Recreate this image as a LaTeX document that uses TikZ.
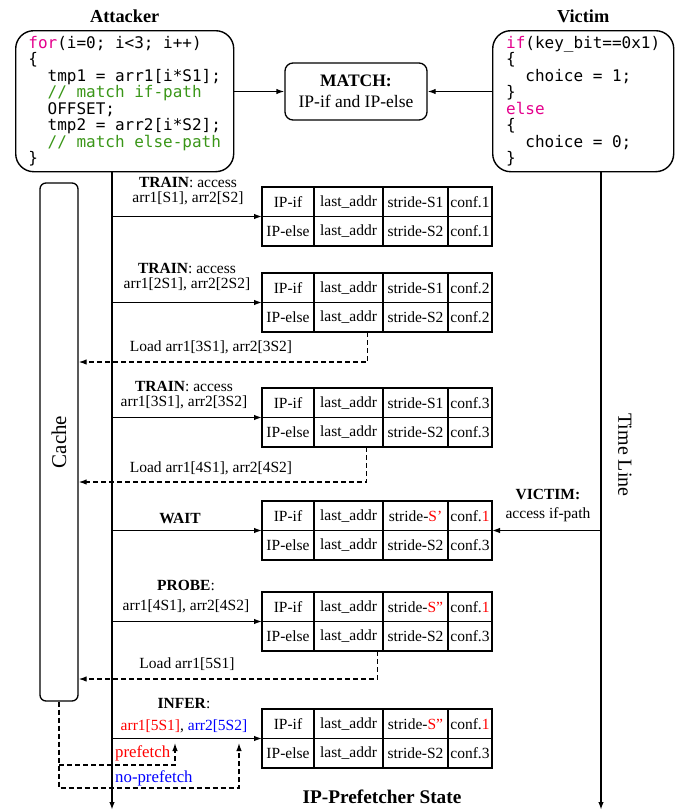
\documentclass[tikz,border=0pt]{standalone}
\usepackage{fontspec}
\setmainfont{Liberation Serif}
\setmonofont{DejaVu Sans Mono}
\usepackage{tikz}
\usetikzlibrary{shapes,arrows.meta,positioning}
\definecolor{kwpink}{RGB}{228,0,140}
\definecolor{cmtgreen}{RGB}{58,150,24}

\begin{document}
\begin{tikzpicture}
            [
                x=1pt, y=-1pt,
                >={Latex[length=8pt,width=5.5pt]},
                codebox/.style={rectangle, draw=black, line width=1.4pt, rounded corners=18pt, minimum width=218pt, minimum height=141pt, inner sep=0pt, align=left, font=\ttfamily\fontsize{16}{16.5}\selectfont},
                matchbox/.style={rectangle, draw=black, line width=1.3pt, rounded corners=8pt, minimum width=142pt, minimum height=57pt, align=center, font=\fontsize{17.5}{21}\selectfont},
                cachebox/.style={rectangle, draw=black, line width=1.3pt, rounded corners=6pt, minimum width=38pt, minimum height=518pt},
                titletext/.style={inner sep=0pt, font=\bfseries\fontsize{18.3}{20}\selectfont},
                cellnode/.style={rectangle, draw=black, line width=1.3pt, minimum height=29.5pt, inner sep=0pt, outer sep=0pt, font=\fontsize{15.5}{15}\selectfont},
                steplabel/.style={inner sep=0pt, align=center, font=\fontsize{15.5}{15}\selectfont},
                flowline/.style={line width=1.3pt, ->},
                timeline/.style={line width=2pt, ->},
                loadline/.style={line width=1.2pt, dash pattern=on 5pt off 3pt, ->},
            ]

            \useasboundingbox (0,0) rectangle (683,812);

            %% CODE BOXES
            \node[codebox, anchor=north west] (attcode) at (15,30) {\textcolor{kwpink}{for}(i=0; i<3; i++)\\
                \{\\
                \phantom{xx}tmp1 = arr1[i*S1];\\
                \phantom{xx}\textcolor{cmtgreen}{// match if-path}\\
                \phantom{xx}OFFSET;\\
                \phantom{xx}tmp2 = arr2[i*S2];\\
                \phantom{xx}\textcolor{cmtgreen}{// match else-path}\\
                \}};
            \node[codebox, anchor=north west, minimum width=181pt] (viccode) at (492,30) {\textcolor{kwpink}{if}(key\_bit==0x1)\\
                \{\\
                \phantom{xx}choice = 1;\\
                \}\\
                \textcolor{kwpink}{else}\\
                \{\\
                \phantom{xx}choice = 0;\\
                \}};

            \node[titletext] (atttitle) [above=7pt of attcode] {Attacker};
            \node[titletext] (victitle) [above=7pt of viccode] {Victim};

            \node[matchbox] (match) at (356,91.5) {\textbf{MATCH:}\\IP-if and IP-else};
            \draw[flowline] (attcode.east |- match.west) -- (match.west);
            \draw[flowline] (viccode.west |- match.east) -- (match.east);

            %% TIME LINES
            \coordinate (attend) at (112,810);
            \coordinate (vicend) at (601,810);
            \draw[timeline] (attend |- attcode.south) -- (attend);
            \draw[timeline] (vicend |- viccode.south) -- (vicend);
            \node[rotate=-90, font=\fontsize{20}{20}\selectfont] (timelabel) at (625,455) {Time Line};

            %% CACHE
            \node[cachebox] (cache) at (59,442) {};
            \node[rotate=90, font=\fontsize{21}{21}\selectfont] (cachelabel) at (cache) {Cache};

            %% PREFETCHER TABLES
            \foreach \n/\ty/\sa/\ca/\cb in {1/187/S1/1/1, 2/273/S1/2/2, 3/388/S1/3/3,
                4/501/{\textcolor{red}{S’}}/{\textcolor{red}{1}}/3,
                5/592/{\textcolor{red}{S”}}/{\textcolor{red}{1}}/3,
                6/709/{\textcolor{red}{S”}}/{\textcolor{red}{1}}/3}
            {
                \node[cellnode, anchor=north west, minimum width=52pt] (ifa\n) at (262,\ty) {IP-if};
                \node[cellnode, minimum width=69pt, right=0pt of ifa\n] (lasta\n) {last\_addr};
                \node[cellnode, minimum width=65pt, right=0pt of lasta\n] (stridea\n) {stride-\sa};
                \node[cellnode, minimum width=44pt, right=0pt of stridea\n] (confa\n) {conf.\ca};
                \node[cellnode, minimum width=52pt, below=0pt of ifa\n] (ifb\n) {IP-else};
                \node[cellnode, minimum width=69pt, right=0pt of ifb\n] (lastb\n) {last\_addr};
                \node[cellnode, minimum width=65pt, right=0pt of lastb\n] (strideb\n) {stride-S2};
                \node[cellnode, minimum width=44pt, right=0pt of strideb\n] (confb\n) {conf.\cb};
                \draw[flowline] (attend |- ifa\n.south west) -- (ifa\n.south west);
            }

            \node[steplabel] (train1) at (188,191) {\textbf{TRAIN}: access\\arr1[S1], arr2[S2]};
            \node[steplabel] (train2) at (187,277) {\textbf{TRAIN}: access\\arr1[2S1], arr2[2S2]};
            \node[steplabel] (train3) at (184,395.5) {\textbf{TRAIN}: access\\arr1[3S1], arr2[3S2]};
            \node[steplabel] (wait) at (180,518) {\textbf{WAIT}};
            \node[steplabel] (probe) at (186,597) {\textbf{PROBE}:\\[5pt]arr1[4S1], arr2[4S2]};
            \node[steplabel] (infer) at (184,716) {\textbf{INFER}:\\[7pt]\textcolor{red}{arr1[5S1]}, \textcolor{blue}{arr2[5S2]}};

            \node[steplabel] (victim) at (548,505.5) {\textbf{VICTIM:}\\[4pt]access if-path};
            \draw[flowline] (vicend |- confa4.south east) -- (confa4.south east);

            %% LOADS
            \node[steplabel] (load1) at (211,347) {Load arr1[3S1], arr2[3S2]};
            \node[steplabel] (load2) at (211,468) {Load arr1[4S1], arr2[4S2]};
            \node[steplabel] (load3) at (187,664) {Load arr1[5S1]};
            \draw[loadline] ([xshift=19pt]lastb2.south) |- (cache.east |- 0,362);
            \draw[loadline] ([xshift=18pt]lastb3.south) |- (cache.east |- 0,482);
            \draw[loadline] ([xshift=29pt]lastb5.south) |- (cache.east |- 0,679);

            %% INFER
            \coordinate (pfend) at (175,743);
            \coordinate (npfend) at (239,743);
            \draw[loadline] (cache.south) |- (npfend |- 0,788) -- (npfend);
            \draw[loadline] (cache.south |- 0,765) -| (pfend);
            \node[steplabel, anchor=west, text=red, font=\fontsize{16.8}{16}\selectfont] (pftext) at (115,753) {prefetch};
            \node[steplabel, anchor=west, text=blue, font=\fontsize{16.8}{16}\selectfont] (npftext) at (115,778) {no-prefetch};

            \node[font=\bfseries\fontsize{19.3}{20}\selectfont] (statetitle) at (382,797) {IP-Prefetcher State};

        \end{tikzpicture}
\end{document}
